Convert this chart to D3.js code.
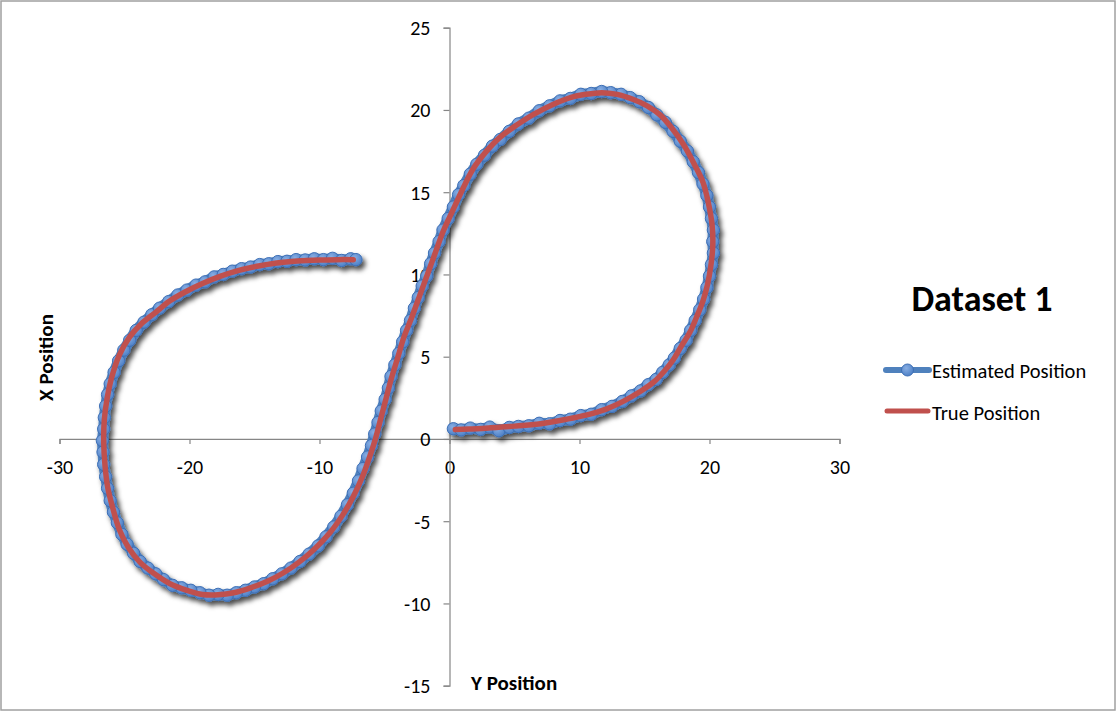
<!DOCTYPE html>
<html>
<head>
<meta charset="utf-8">
<script src="https://cdn.jsdelivr.net/npm/d3@7"></script>
<style>
  body { margin: 0; background: #fff; }
  svg { display: block; font-family: Calibri, Carlito, Lato, sans-serif; }
</style>
</head>
<body>
<svg id="chart" width="1119" height="713"></svg>
<script>
// Valeurs : [y position, x position]
var truePosition = [
  [0.45,0.57],[1.5,0.6],[3,0.67],[5,0.78],[7,0.93],[9,1.2],[10.5,1.45],[12,1.8],[13.4,2.3],[14.7,2.9],
  [15.7,3.45],[16.5,4.1],[17.2,4.8],[17.8,5.6],[18.5,6.5],[19.0,7.4],[19.5,8.4],[19.85,9.4],[20.1,10.5],
  [20.25,11.7],[20.2,13.0],[19.9,14.4],[19.5,15.6],[18.9,16.6],[18.0,17.9],[17.1,18.9],[16.2,19.7],
  [15.2,20.25],[14.1,20.65],[12.9,20.95],[11.7,21.05],[10.5,20.95],[9.3,20.75],[8.0,20.35],[6.5,19.75],
  [5.2,19.1],[3.9,18.35],[2.8,17.45],[1.8,16.4],[0.9,15.0],[0.2,13.8],[-0.5,12.6],[-1.1,11.3],[-1.7,10.0],
  [-2.3,8.7],[-2.9,7.4],[-3.5,6.2],[-4.0,4.9],[-4.5,3.6],[-4.9,2.4],[-5.3,1.2],[-5.7,0],[-6.15,-1.1],
  [-6.7,-2.3],[-7.4,-3.5],[-8.2,-4.6],[-9.2,-5.7],[-10.4,-6.7],[-11.6,-7.5],[-12.8,-8.15],[-14.0,-8.65],
  [-15.3,-9.05],[-16.6,-9.35],[-17.8,-9.47],[-19.0,-9.45],[-20.2,-9.2],[-21.5,-8.8],[-22.7,-8.2],
  [-23.8,-7.5],[-24.7,-6.6],[-25.4,-5.5],[-25.9,-4.2],[-26.3,-2.9],[-26.5,-1.6],[-26.6,-0.2],[-26.55,1.2],
  [-26.35,2.4],[-26.0,3.7],[-25.4,5.1],[-24.6,6.2],[-23.7,7.0],[-22.6,7.7],[-21.5,8.4],[-20.3,8.95],
  [-19.0,9.45],[-17.6,9.9],[-16.2,10.25],[-14.8,10.5],[-13.3,10.7],[-11.7,10.82],[-10.0,10.88],
  [-8.6,10.9],[-7.4,10.9]
];

var estimatedPosition = [
  [0.3,0.62],[0.9,0.55],[1.6,0.66],[2.4,0.58],[3.1,0.72],[3.8,0.5],[4.6,0.7],[5.3,0.76],[6.1,0.8],[6.9,0.95],
  [7.7,0.92],[8.5,1.12],[9.3,1.2],[10.1,1.42],[10.9,1.5],[11.7,1.78],[12.5,1.98],[13.3,2.28],[14.0,2.62],
  [14.7,2.92],[15.3,3.3],[15.9,3.62],[16.4,4.05],[16.9,4.5],[17.3,4.92],[17.75,5.5],[18.2,6.0],[18.55,6.6],
  [18.9,7.2],[19.25,7.85],[19.55,8.5],[19.8,9.2],[20.0,9.9],[20.15,10.6],[20.3,11.3],[20.25,12.0],[20.3,12.7],
  [20.15,13.4],[20.0,14.1],[19.8,14.8],[19.5,15.5],[19.15,16.2],[18.75,16.85],[18.3,17.5],[17.75,18.1],
  [17.2,18.7],[16.6,19.25],[15.95,19.7],[15.3,20.15],[14.6,20.5],[13.9,20.75],[13.2,20.95],[12.4,21.05],
  [11.7,21.12],[10.9,21.0],[10.1,20.95],[9.3,20.7],[8.5,20.55],[7.7,20.25],[6.9,19.95],[6.1,19.5],[5.3,19.15],
  [4.6,18.7],[3.9,18.2],[3.3,17.8],[2.7,17.25],[2.1,16.7],[1.6,16.1],[1.1,15.4],[0.7,14.85],[0.3,14.1],
  [-0.1,13.4],[-0.5,12.7],[-0.8,12.0],[-1.15,11.3],[-1.45,10.65],[-1.75,9.9],[-2.1,9.3],[-2.4,8.6],
  [-2.7,7.95],[-3.0,7.2],[-3.3,6.6],[-3.6,5.9],[-3.9,5.2],[-4.2,4.5],[-4.5,3.8],[-4.7,3.1],[-4.95,2.4],
  [-5.25,1.7],[-5.5,1.0],[-5.75,0.3],[-6.0,-0.4],[-6.3,-1.1],[-6.65,-1.8],[-7.0,-2.55],[-7.4,-3.3],
  [-7.85,-4.0],[-8.35,-4.7],[-8.9,-5.35],[-9.5,-5.95],[-10.1,-6.5],[-10.8,-7.0],[-11.5,-7.45],[-12.2,-7.85],
  [-12.9,-8.2],[-13.6,-8.5],[-14.3,-8.8],[-15.0,-9.0],[-15.7,-9.2],[-16.4,-9.35],[-17.1,-9.5],[-17.8,-9.45],
  [-18.5,-9.5],[-19.2,-9.35],[-19.9,-9.2],[-20.6,-9.05],[-21.3,-8.9],[-22.0,-8.55],[-22.6,-8.2],[-23.2,-7.85],
  [-23.8,-7.45],[-24.3,-6.95],[-24.8,-6.4],[-25.2,-5.8],[-25.55,-5.1],[-25.85,-4.45],[-26.1,-3.75],
  [-26.3,-3.0],[-26.45,-2.3],[-26.6,-1.55],[-26.65,-0.8],[-26.7,-0.1],[-26.6,0.6],[-26.55,1.3],[-26.45,2.0],
  [-26.3,2.7],[-26.1,3.35],[-25.8,4.05],[-25.45,4.75],[-25.05,5.4],[-24.6,6.0],[-24.1,6.6],[-23.5,7.1],
  [-22.9,7.55],[-22.3,7.95],[-21.6,8.35],[-20.9,8.75],[-20.2,9.05],[-19.5,9.35],[-18.8,9.55],[-18.1,9.85],
  [-17.4,10.0],[-16.7,10.2],[-16.0,10.35],[-15.3,10.45],[-14.6,10.6],[-13.9,10.65],[-13.2,10.78],[-12.5,10.8],
  [-11.8,10.9],[-11.1,10.88],[-10.4,10.95],[-9.7,10.9],[-9.0,10.98],[-8.3,10.85],[-7.6,10.95],[-7.2,10.9]
];

var xTicks = [-30, -20, -10, 0, 10, 20, 30];
var yTicks = [-15, -10, -5, 0, 5, 10, 15, 20, 25];
var seriesNames = ["Estimated Position", "True Position"];
var chartTitle = "Dataset 1";

var svg = d3.select("#chart");
var blue = "#4F81BD", red = "#C0504D", axisColor = "#868686";
var fontFamily = "Calibri, Carlito, Lato, sans-serif";

var x = d3.scaleLinear().domain([-30, 30]).range([59.5, 839.5]);
var y = d3.scaleLinear().domain([-15, 25]).range([685.7, 27.7]);

// Cadre du graphique
svg.append("rect")
  .attr("x", 1).attr("y", 1).attr("width", 1114).attr("height", 709)
  .attr("fill", "#fff").attr("stroke", "#a0a0a0").attr("stroke-width", 1.5);

// Ombre portée
var defs = svg.append("defs");
var shadow = defs.append("filter").attr("id", "shadow")
  .attr("x", "-10%").attr("y", "-10%").attr("width", "120%").attr("height", "120%");
shadow.append("feDropShadow")
  .attr("dx", 3).attr("dy", 4).attr("stdDeviation", 2.5)
  .attr("flood-color", "#000").attr("flood-opacity", 0.7);

var grad = defs.append("radialGradient").attr("id", "marker").attr("cx", "40%").attr("cy", "35%").attr("r", "70%");
grad.append("stop").attr("offset", "0%").attr("stop-color", "#88aee3");
grad.append("stop").attr("offset", "100%").attr("stop-color", "#4a7dc4");

// Axes croisés à zéro (tirets simples comme dans Excel)
var fmt = d => String(d);
var xAxis = d3.axisBottom(x).tickValues(xTicks).tickSize(5).tickFormat(fmt);
var yAxis = d3.axisLeft(y).tickValues(yTicks).tickSize(6).tickFormat(fmt);

var gx = svg.append("g").attr("transform", "translate(0," + y(0) + ")").call(xAxis);
var gy = svg.append("g").attr("transform", "translate(" + x(0) + ",0)").call(yAxis);

[gx, gy].forEach(function (g) {
  g.select(".domain").attr("stroke", axisColor).attr("stroke-width", 1.2);
  g.selectAll(".tick line").attr("stroke", axisColor).attr("stroke-width", 1.2);
  g.selectAll(".tick text").attr("fill", "#000").style("font-size", "20px")
    .style("font-family", fontFamily);
});
gx.selectAll(".tick text").attr("dy", null).attr("y", 35);
gy.selectAll(".tick text").attr("x", -19).attr("dy", "0.35em");

var line = d3.line().x(d => x(d[0])).y(d => y(d[1])).curve(d3.curveLinear);

// Séries
var series = svg.append("g").attr("filter", "url(#shadow)");
series.append("path")
  .datum(estimatedPosition)
  .attr("d", line)
  .attr("fill", "none").attr("stroke", blue).attr("stroke-width", 11)
  .attr("stroke-linejoin", "round").attr("stroke-linecap", "round");
series.append("g").selectAll("circle")
  .data(estimatedPosition)
  .enter().append("circle")
  .attr("cx", d => x(d[0])).attr("cy", d => y(d[1])).attr("r", 6.2)
  .attr("fill", "url(#marker)").attr("stroke", "#3d6fb5").attr("stroke-width", 1);

svg.append("path")
  .datum(truePosition)
  .attr("d", line.curve(d3.curveCatmullRom))
  .attr("fill", "none").attr("stroke", red).attr("stroke-width", 5.5)
  .attr("stroke-linejoin", "round").attr("stroke-linecap", "round");

// Titres des axes
svg.append("text")
  .attr("x", 471).attr("y", 690)
  .style("font-size", "21px").style("font-weight", "bold")
  .text("Y Position");
svg.append("text")
  .attr("transform", "translate(52.5,357.5) rotate(-90)")
  .attr("text-anchor", "middle")
  .style("font-size", "21px").style("font-weight", "bold")
  .text("X Position");

// Titre et légende
svg.append("text")
  .attr("x", 982).attr("y", 311)
  .attr("text-anchor", "middle")
  .style("font-size", "36px").style("font-weight", "bold")
  .text(chartTitle);

var legend = svg.append("g");
legend.append("line")
  .attr("x1", 886).attr("x2", 929).attr("y1", 370).attr("y2", 370)
  .attr("stroke", blue).attr("stroke-width", 6).attr("stroke-linecap", "round");
legend.append("circle")
  .attr("cx", 907.5).attr("cy", 370).attr("r", 6)
  .attr("fill", "url(#marker)").attr("stroke", "#3d6fb5").attr("stroke-width", 1);
legend.append("line")
  .attr("x1", 887).attr("x2", 928).attr("y1", 411).attr("y2", 411)
  .attr("stroke", red).attr("stroke-width", 5).attr("stroke-linecap", "round");
legend.selectAll("text")
  .data(seriesNames)
  .enter().append("text")
  .attr("x", 932).attr("y", (d, i) => 378 + i * 42)
  .style("font-size", "20.5px")
  .text(d => d);
</script>
</body>
</html>
